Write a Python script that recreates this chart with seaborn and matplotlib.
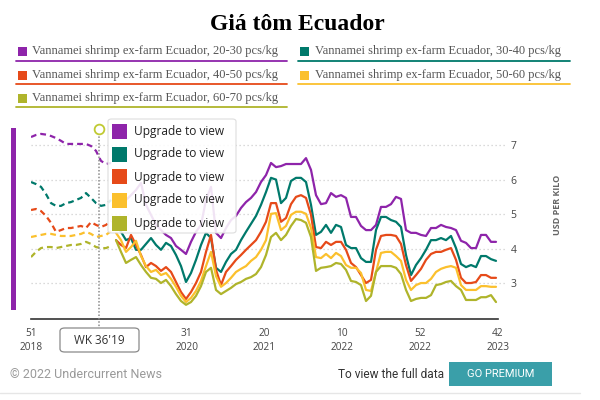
import numpy as np
import pandas as pd
import matplotlib
matplotlib.use("Agg")
import matplotlib.pyplot as plt
import seaborn as sns
from matplotlib.patches import Rectangle, FancyBboxPatch
from matplotlib.lines import Line2D

### Weekly ex-farm prices (USD per kilo), one value per plotted week
sizes = ["20-30", "30-40", "40-50", "50-60", "60-70"]
colors = ["#8e24aa", "#00796b", "#e64a19", "#fbc02d", "#afb42b"]

p_20_30 = [7.23, 7.29, 7.32, 7.30, 7.26, 7.20, 7.12, 7.03, 7.03, 7.03, 7.03, 7.03, 6.97, 6.83, 6.54, 6.45, 6.48,
           5.41, 5.27, 5.41, 5.55, 5.70, 5.90, 5.27, 4.98, 4.69, 4.54, 4.40, 4.31, 4.08, 3.97, 3.85, 4.20, 4.49,
           4.69, 5.41, 5.79, 4.46, 4.31, 4.60, 4.83, 4.95, 5.18, 5.35, 5.47, 5.64, 5.93, 6.13, 6.48, 6.36, 6.39,
           6.45, 6.45, 6.45, 6.45, 6.62, 6.28, 5.55, 5.29, 5.32, 5.61, 5.50, 5.55, 5.47, 4.92, 4.92, 4.66, 4.54,
           4.54, 4.69, 5.21, 5.21, 5.29, 5.50, 5.44, 4.54, 4.46, 4.46, 4.40, 4.37, 4.60, 4.60, 4.69, 4.63, 4.60,
           4.54, 4.23, 4.17, 4.02, 4.02, 4.40, 4.40, 4.20, 4.20]
p_30_40 = [5.93, 5.87, 5.79, 5.58, 5.32, 5.24, 5.24, 5.32, 5.35, 5.41, 5.47, 5.61, 5.47, 5.32, 5.24, 5.27, 5.41,
           4.69, 4.49, 4.25, 4.31, 3.97, 3.97, 4.14, 4.31, 4.11, 3.97, 4.17, 4.08, 3.82, 3.50, 3.04, 3.30, 3.68,
           4.11, 4.46, 4.31, 3.45, 3.33, 3.62, 3.85, 3.97, 4.25, 4.49, 4.72, 4.95, 5.27, 5.64, 6.05, 6.00, 5.32,
           5.47, 5.96, 6.05, 6.05, 5.93, 5.27, 4.40, 4.49, 4.69, 4.46, 4.69, 4.63, 4.11, 4.02, 4.02, 3.73, 3.62,
           3.62, 4.54, 4.92, 4.92, 4.83, 4.78, 4.63, 3.82, 3.24, 3.53, 3.73, 3.97, 4.25, 4.25, 4.31, 4.25, 4.37,
           4.02, 3.56, 3.47, 3.53, 3.47, 3.79, 3.79, 3.70, 3.65]
p_40_50 = [5.12, 5.15, 5.09, 4.95, 4.75, 4.49, 4.54, 4.60, 4.60, 4.63, 4.66, 4.60, 4.77, 4.69, 4.63, 4.69, 4.80,
           4.25, 4.11, 4.02, 4.40, 4.11, 3.82, 3.47, 3.59, 3.50, 3.36, 3.47, 3.33, 3.04, 2.75, 2.55, 2.75, 3.01,
           3.33, 3.91, 4.40, 3.39, 2.95, 3.33, 3.50, 3.68, 3.82, 3.97, 4.11, 4.25, 4.49, 4.78, 5.32, 5.32, 4.78,
           4.89, 5.29, 5.50, 5.55, 5.47, 4.98, 4.05, 4.02, 4.20, 4.11, 4.20, 4.20, 3.97, 3.59, 3.47, 3.24, 3.01,
           3.10, 3.97, 4.37, 4.40, 4.40, 4.37, 4.14, 3.53, 3.07, 3.24, 3.42, 3.68, 3.85, 3.91, 3.91, 3.97, 4.02,
           3.68, 3.16, 3.01, 3.01, 3.04, 3.24, 3.24, 3.16, 3.16]
p_50_60 = [4.34, 4.37, 4.40, 4.43, 4.43, 4.40, 4.37, 4.37, 4.37, 4.40, 4.43, 4.49, 4.43, 4.34, 4.37, 4.40, 4.51,
           4.46, 4.25, 3.91, 4.05, 4.23, 3.79, 3.50, 3.33, 3.39, 3.24, 3.30, 3.13, 2.90, 2.64, 2.46, 2.58, 2.78,
           3.07, 3.50, 3.91, 3.21, 2.90, 3.01, 3.16, 3.33, 3.42, 3.50, 3.65, 3.76, 3.97, 4.25, 5.01, 5.03, 4.54,
           4.66, 4.98, 5.07, 5.07, 5.01, 4.60, 3.76, 3.73, 3.85, 3.73, 3.88, 3.79, 3.53, 3.45, 3.45, 3.30, 2.81,
           2.78, 3.33, 3.88, 3.91, 3.91, 3.79, 3.65, 3.10, 2.81, 2.95, 3.01, 3.01, 3.13, 3.33, 3.42, 3.47, 3.50,
           3.45, 2.95, 2.81, 2.81, 2.81, 2.92, 2.92, 2.90, 2.90]
p_60_70 = [3.76, 3.91, 4.02, 4.05, 4.05, 4.02, 4.05, 4.08, 4.11, 4.11, 4.14, 4.20, 4.14, 4.05, 4.02, 4.02, 4.08,
           4.25, 3.91, 3.59, 3.68, 3.76, 3.53, 3.33, 3.16, 3.13, 3.01, 3.10, 2.92, 2.69, 2.49, 2.38, 2.46, 2.64,
           2.92, 3.33, 3.45, 2.81, 2.69, 2.78, 2.87, 2.98, 3.04, 3.13, 3.18, 3.27, 3.47, 3.82, 4.34, 4.46, 4.25,
           4.40, 4.66, 4.86, 4.83, 4.75, 4.34, 3.36, 3.45, 3.47, 3.50, 3.59, 3.56, 3.39, 3.07, 3.04, 2.95, 2.49,
           2.64, 3.33, 3.50, 3.50, 3.50, 3.45, 3.27, 2.81, 2.49, 2.55, 2.58, 2.58, 2.66, 2.95, 2.98, 3.04, 3.07,
           2.92, 2.81, 2.52, 2.52, 2.52, 2.60, 2.60, 2.66, 2.46]

### second label sits under the week tooltip in the original, so left blank
tick_labels = ["51\n2018", "", "31\n2020", "20\n2021", "10\n2022", "52\n2022", "42\n2023"]
y_ticks = [3, 4, 5, 6, 7]
dash_end = 16   ### points up to here drawn dashed (blurred history)

series = [p_20_30, p_30_40, p_40_50, p_50_60, p_60_70]
rows = []
for s, vals in zip(sizes, series):
    for i, v in enumerate(vals):
        rows.append([s, i, v])
df = pd.DataFrame(rows, columns=["size", "week", "usd"])
n_weeks = len(p_20_30)

sns.set_style("white")
plt.rcParams["font.family"] = ["Open Sans", "DejaVu Sans"]

W, H = 600, 400
fig = plt.figure(figsize=(6, 4), dpi=100)

def fx(px):
    return px / W

def fy(py):
    return 1 - py / H

ax = fig.add_axes([fx(31), fy(319), fx(498) - fx(31), fy(118) - fy(319)])

hist = df[df["week"] <= dash_end]
live = df[df["week"] > dash_end]
sns.lineplot(data=hist, x="week", y="usd", hue="size", hue_order=sizes, palette=colors,
             linewidth=1.6, linestyle=(0, (2.6, 1.8)), errorbar=None, legend=False, ax=ax)
sns.lineplot(data=live, x="week", y="usd", hue="size", hue_order=sizes, palette=colors,
             linewidth=1.6, errorbar=None, legend=False, ax=ax)

x_max = n_weeks - 0.6
ax.set_xlim(0, x_max)
ax.set_ylim(1.97, 7.78)
ax.set_xlabel("")
ax.set_ylabel("")

### dotted grid that runs a bit past the right edge
for v in y_ticks:
    ax.plot([0, 1.015], [v, v], transform=ax.get_yaxis_transform(), color="#cfcfcf",
            lw=0.9, ls=(0, (1, 2.2)), clip_on=False, zorder=0)

ax.yaxis.tick_right()
ax.set_yticks(y_ticks)
ax.set_yticklabels([str(v) for v in y_ticks])
ax.tick_params(axis="y", length=0, pad=9, labelsize=7.5, labelcolor="#444444")

ax.set_xticks(np.linspace(0, x_max, len(tick_labels)))
ax.set_xticklabels(tick_labels, linespacing=1.35)
ax.tick_params(axis="x", length=4.5, width=1, color="#333333", pad=2,
               labelsize=7.3, labelcolor="#444444")

for side in ["top", "right", "left"]:
    ax.spines[side].set_visible(False)
ax.spines["bottom"].set_color("#333333")
ax.spines["bottom"].set_linewidth(1.2)

fig.text(fx(557), fy(205), "USD PER KILO", rotation=90, ha="center", va="center",
         fontsize=6.5, fontweight="bold", color="#666666")

### title and top legend
fig.text(fx(297), fy(24), "Giá tôm Ecuador", ha="center", va="center",
         family="Liberation Serif", fontweight="bold", fontsize=17, color="black")

slots = [(0, 0), (1, 0), (0, 1), (1, 1), (0, 2)]
col_sq = [18, 300]
col_txt = [32, 315]
col_line = [(16, 287), (298, 570)]
row_y = [51, 75, 98]
row_line = [61, 84, 107]
for k, (c, r) in enumerate(slots):
    fig.add_artist(Rectangle((fx(col_sq[c]), fy(row_y[r] + 4.5)), fx(9), 9 / H,
                             transform=fig.transFigure, color=colors[k], lw=0))
    fig.text(fx(col_txt[c]), fy(row_y[r]), f"Vannamei shrimp ex-farm Ecuador, {sizes[k]} pcs/kg",
             ha="left", va="center", family="Liberation Serif", fontsize=9, color="#555555")
    fig.add_artist(Line2D([fx(col_line[c][0]), fx(col_line[c][1])], [fy(row_line[r])] * 2,
                          transform=fig.transFigure, color=colors[k], lw=1.3))

### purple side bar
fig.add_artist(Rectangle((fx(11), fy(310)), fx(5), 182 / H, transform=fig.transFigure,
                         color=colors[0], lw=0))

### hover legend box
fig.add_artist(FancyBboxPatch((fx(108), fy(233)), fx(128), 114 / H,
                              boxstyle="round,pad=0,rounding_size=0.006",
                              transform=fig.transFigure, facecolor="white", alpha=0.88,
                              edgecolor="#d9d9d9", lw=0.8))
for k in range(len(sizes)):
    cy = 131 + 23 * k
    fig.add_artist(Rectangle((fx(112), fy(cy + 7.5)), fx(15), 15 / H,
                             transform=fig.transFigure, color=colors[k], lw=0))
    fig.text(fx(134), fy(cy), "Upgrade to view", ha="left", va="center",
             fontsize=8.6, color="#222222")

### hover marker
fig.add_artist(Line2D([fx(99), fx(99)], [fy(133), fy(328)], transform=fig.transFigure,
                      color="#8a8a8a", lw=1.1, ls=(0, (1, 1.2))))
fig.add_artist(Line2D([fx(99)], [fy(129)], transform=fig.transFigure, marker="o", ms=7,
                      mfc="white", mec="#c0ca33", mew=1.3, lw=0))
fig.add_artist(FancyBboxPatch((fx(60), fy(352)), fx(79), 24 / H,
                              boxstyle="round,pad=0,rounding_size=0.008",
                              transform=fig.transFigure, facecolor="white",
                              edgecolor="#8a8a8a", lw=0.9, zorder=5))
fig.text(fx(99.5), fy(340), "WK 36'19", ha="center", va="center", fontsize=8.5,
         color="#333333", zorder=6)

### footer
fig.text(fx(10), fy(374), "© 2022 Undercurrent News", ha="left", va="center",
         family="Roboto", fontsize=9, color="#9a9a9a")
fig.text(fx(444), fy(374), "To view the full data", ha="right", va="center",
         family="Roboto", fontsize=8.6, color="#333333")
fig.add_artist(Rectangle((fx(449), fy(386)), fx(103), 24 / H, transform=fig.transFigure,
                         color="#3a9fa9", lw=0))
fig.text(fx(500.5), fy(374), "GO PREMIUM", ha="center", va="center",
         family="Roboto", fontsize=8, color="white")
fig.add_artist(Line2D([0, fx(580)], [fy(393)] * 2, transform=fig.transFigure,
                      color="#e6e6e6", lw=1))

fig.savefig("out.png", dpi=100)
